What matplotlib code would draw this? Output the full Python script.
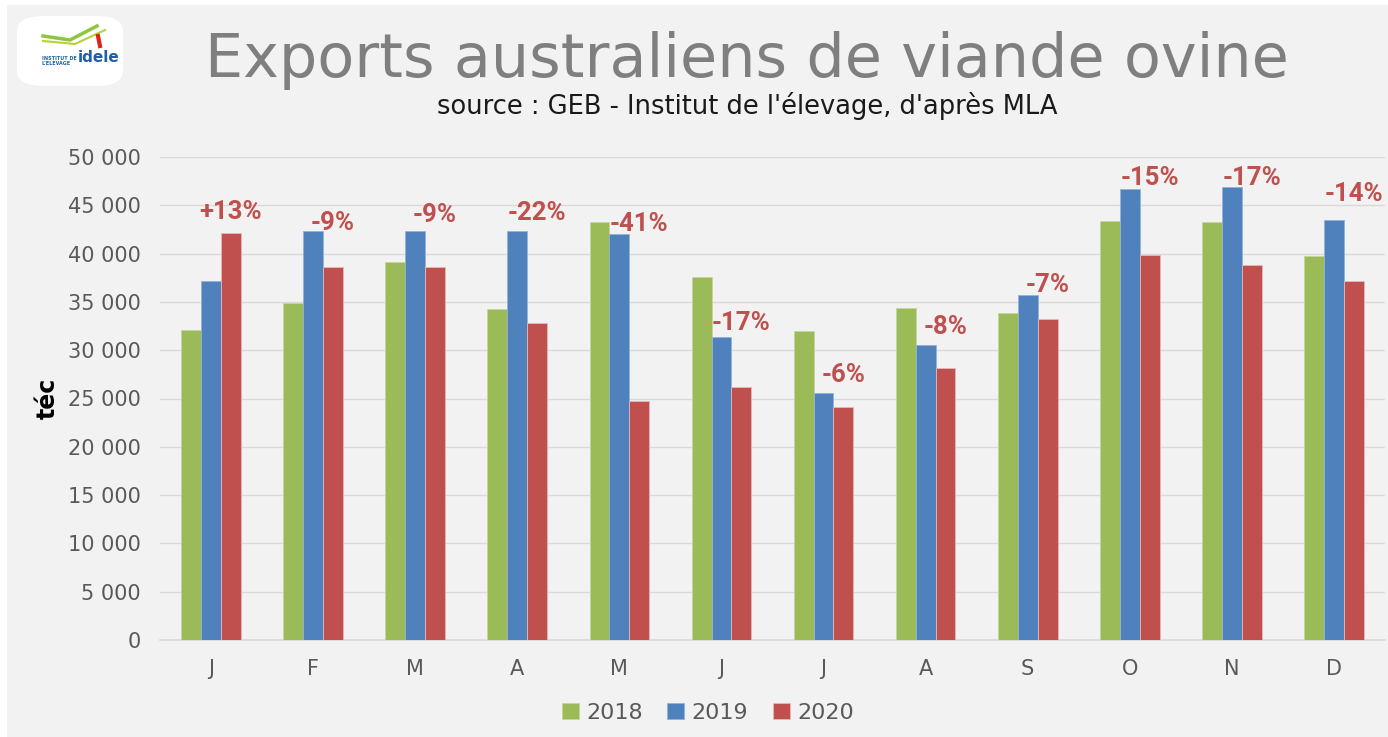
import numpy as np
import matplotlib
matplotlib.use("Agg")
import matplotlib.pyplot as plt
from matplotlib.patches import Rectangle, FancyBboxPatch
from matplotlib.ticker import FuncFormatter

# données (tec)
months = ["J", "F", "M", "A", "M", "J", "J", "A", "S", "O", "N", "D"]
exp_2018 = [32100, 34900, 39100, 34300, 43300, 37600, 32000, 34400, 33900, 43400, 43300, 39700]
exp_2019 = [37150, 42350, 42350, 42300, 42000, 31400, 25600, 30550, 35700, 46650, 46850, 43450]
exp_2020 = [42100, 38600, 38600, 32800, 24750, 26200, 24100, 28200, 33250, 39850, 38800, 37200]
var_labels = ["+13%", "-9%", "-9%", "-22%", "-41%", "-17%", "-6%", "-8%", "-7%", "-15%", "-17%", "-14%"]
# hauteur des étiquettes (placées à la main sur l'original)
label_pos = [44300, 43160, 44000, 44200, 43060, 32810, 27430, 32400, 36740, 47800, 47800, 46160]

green = "#9BBB59"
blue = "#4F81BD"
red = "#C0504D"
gray_txt = "#595959"

fig = plt.figure(figsize=(13.88, 7.37), dpi=100, facecolor="white")

# fond gris du panneau
fig.patches.append(Rectangle((7 / 1388, 0), 1 - 7 / 1388, 1 - 5 / 737,
                             transform=fig.transFigure, facecolor="#F2F2F2",
                             edgecolor="none", zorder=-5))

ax = fig.add_axes([160 / 1388, 97 / 737, 1225 / 1388, 483 / 737])
ax.set_facecolor("none")

x = np.arange(len(months))
w = 0.195
ax.bar(x - w, exp_2018, w, color=green, edgecolor="#C4D79B", linewidth=0.6, label="2018", zorder=3)
ax.bar(x, exp_2019, w, color=blue, edgecolor="#95B3D7", linewidth=0.6, label="2019", zorder=3)
ax.bar(x + w, exp_2020, w, color=red, edgecolor="#E6B9B8", linewidth=0.6, label="2020", zorder=3)

for i in range(len(months)):
    ax.text(x[i] + w, label_pos[i], var_labels[i], ha="center", va="center",
            color=red, fontsize=18.5, fontweight="bold",
            family=["Roboto", "DejaVu Sans"], zorder=4)

ax.set_xlim(-0.5, 11.5)
ax.set_ylim(0, 50000)
ax.set_yticks(np.arange(0, 50001, 5000))
ax.yaxis.set_major_formatter(FuncFormatter(lambda v, p: f"{int(v):,}".replace(",", " ")))
ax.set_xticks(x)
ax.set_xticklabels(months)
ax.tick_params(axis="y", length=0, pad=14, labelsize=15, labelcolor=gray_txt)
ax.tick_params(axis="x", length=0, pad=14, labelsize=15, labelcolor=gray_txt)
ax.grid(axis="y", color="#D9D9D9", linewidth=1, zorder=0)
for s in ["left", "right", "top"]:
    ax.spines[s].set_visible(False)
ax.spines["bottom"].set_color("#D9D9D9")
ax.spines["bottom"].set_linewidth(1.2)

fig.text(48 / 1388, 1 - 398 / 737, "téc", rotation=90, ha="center", va="center",
         fontsize=17, fontweight="bold", color="black")

leg = ax.legend(loc="center", bbox_to_anchor=(708 / 1388, 1 - 713 / 737),
                bbox_transform=fig.transFigure, ncol=3, frameon=False,
                fontsize=16, handlelength=0.75, handleheight=0.75,
                handletextpad=0.35, columnspacing=1.1)
for t in leg.get_texts():
    t.set_color(gray_txt)

# titre ajusté à la largeur de l'original
title = fig.text(747 / 1388, 1 - 77 / 737, "Exports australiens de viande ovine",
                 ha="center", va="baseline", fontsize=50, color="#7F7F7F")
fig.text(747 / 1388, 1 - 114 / 737, "source : GEB - Institut de l'élevage, d'après MLA",
         ha="center", va="baseline", fontsize=18.5, color="#1A1A1A")
fig.canvas.draw()
tw = title.get_window_extent().width
title.set_fontsize(50 * 1085 / tw)

# logo idele (simplifié)
fig.patches.append(FancyBboxPatch((17 / 1388, 1 - 86 / 737), 106 / 1388, 70 / 737,
                                  boxstyle="round,pad=0,rounding_size=0.02",
                                  transform=fig.transFigure, facecolor="white",
                                  edgecolor="none", zorder=1))
fig.text(42 / 1388, 1 - 61 / 737, "INSTITUT DE\nL'ELEVAGE", fontsize=3.5,
         fontweight="bold", color="#1F5FA8", va="center", ha="left", linespacing=1.0)
fig.text(78 / 1388, 1 - 57 / 737, "idele", fontsize=11, fontweight="bold",
         color="#1F5FA8", va="center", ha="left")
fig.add_artist(plt.Line2D([43 / 1388, 70 / 1388, 97 / 1388], [1 - 36 / 737, 1 - 40 / 737, 1 - 26 / 737],
                          color="#8DC63F", linewidth=2.5))
fig.add_artist(plt.Line2D([43 / 1388, 75 / 1388, 105 / 1388], [1 - 41 / 737, 1 - 44 / 737, 1 - 30 / 737],
                          color="#B5D334", linewidth=1.5))
fig.add_artist(plt.Line2D([98 / 1388, 100 / 1388], [1 - 36 / 737, 1 - 46 / 737],
                          color="#E2231A", linewidth=3))

fig.savefig("out.png", dpi=100, facecolor=fig.get_facecolor())
